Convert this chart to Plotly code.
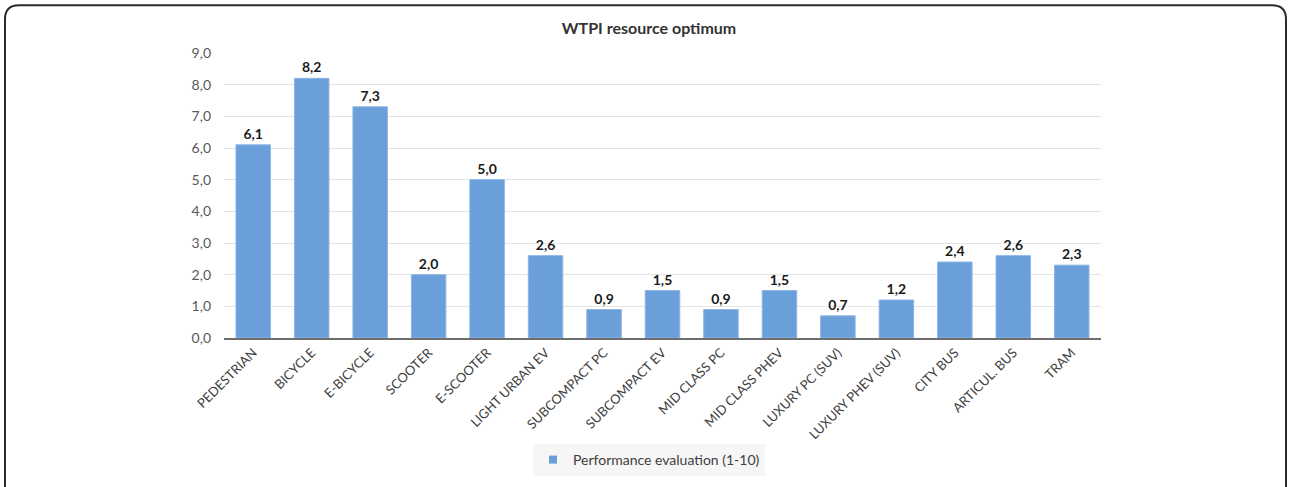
import plotly.graph_objects as go

# Transport modes and their WTPI resource-optimum score
categories = [
    "PEDESTRIAN", "BICYCLE", "E-BICYCLE", "SCOOTER", "E-SCOOTER",
    "LIGHT URBAN EV", "SUBCOMPACT PC", "SUBCOMPACT EV", "MID CLASS PC",
    "MID CLASS PHEV", "LUXURY PC (SUV)", "LUXURY PHEV (SUV)", "CITY BUS",
    "ARTICUL. BUS", "TRAM",
]
scores = [6.1, 8.2, 7.3, 2.0, 5.0, 2.6, 0.9, 1.5, 0.9, 1.5, 0.7, 1.2, 2.4, 2.6, 2.3]
series_name = "Performance evaluation (1-10)"
y_ticks = [0, 1, 2, 3, 4, 5, 6, 7, 8, 9]

W, H = 1290, 487
ML, MR, MT, MB = 224, 189, 53, 148
pw, ph = W - ML - MR, H - MT - MB

FONT = "Lato, 'Open Sans', sans-serif"
BAR = "#6a9fd9"

fig = go.Figure()
fig.add_trace(
    go.Bar(
        x=categories,
        y=scores,
        name=series_name,
        marker=dict(color=BAR, line=dict(color="#8db5e6", width=1)),
        texttemplate="<b>%{y:.1f}</b>",
        textposition="outside",
        textfont=dict(family=FONT, size=14, color="#1a1a1a"),
        cliponaxis=False,
        showlegend=False,
    )
)
# Legend entry with a small square swatch
fig.add_trace(
    go.Scatter(
        x=[None],
        y=[None],
        mode="markers",
        name=series_name,
        marker=dict(symbol="square", size=8, color=BAR),
        showlegend=True,
    )
)

# Rounded outer frame, expressed in paper coordinates
def px_x(p):
    return (p - ML) / pw

def px_y(p):
    return (H - MB - p) / ph

x0, x1 = px_x(5), px_x(1286)
y0, y1 = px_y(5), px_y(560)
rx, ry = 14 / pw, 14 / ph
frame = (
    f"M {x0} {y1} L {x0} {y0 - ry} Q {x0} {y0} {x0 + rx} {y0} "
    f"L {x1 - rx} {y0} Q {x1} {y0} {x1} {y0 - ry} L {x1} {y1}"
)

fig.update_layout(
    width=W,
    height=H,
    margin=dict(l=ML, r=MR, t=MT, b=MB),
    paper_bgcolor="white",
    plot_bgcolor="white",
    separators=",.",
    bargap=0.41,
    font=dict(family=FONT, color="#595959"),
    title=dict(
        text="<b>WTPI resource optimum</b>",
        x=649 / W,
        xanchor="center",
        y=1 - 28 / H,
        yanchor="middle",
        font=dict(family=FONT, size=16, color="#333333"),
    ),
    xaxis=dict(
        tickangle=-45,
        tickfont=dict(family=FONT, size=13, color="#404040"),
        showline=True,
        linecolor="#6e6e6e",
        linewidth=2,
        ticks="",
        showgrid=False,
    ),
    yaxis=dict(
        range=[0, 9],
        tickvals=y_ticks,
        tickformat=".1f",
        tickfont=dict(family=FONT, size=14, color="#595959"),
        gridcolor="#e4e4e4",
        gridwidth=1,
        zeroline=False,
        ticklabelstandoff=12,
    ),
    legend=dict(
        orientation="h",
        x=px_x(649),
        xanchor="center",
        y=px_y(460),
        yanchor="middle",
        bgcolor="#f6f6f6",
        font=dict(family=FONT, size=14, color="#404040"),
        itemwidth=30,
    ),
    shapes=[
        dict(
            type="path",
            xref="paper",
            yref="paper",
            path=frame,
            line=dict(color="#2b2b2b", width=2),
            layer="above",
        )
    ],
)

fig.write_html("out.html")
